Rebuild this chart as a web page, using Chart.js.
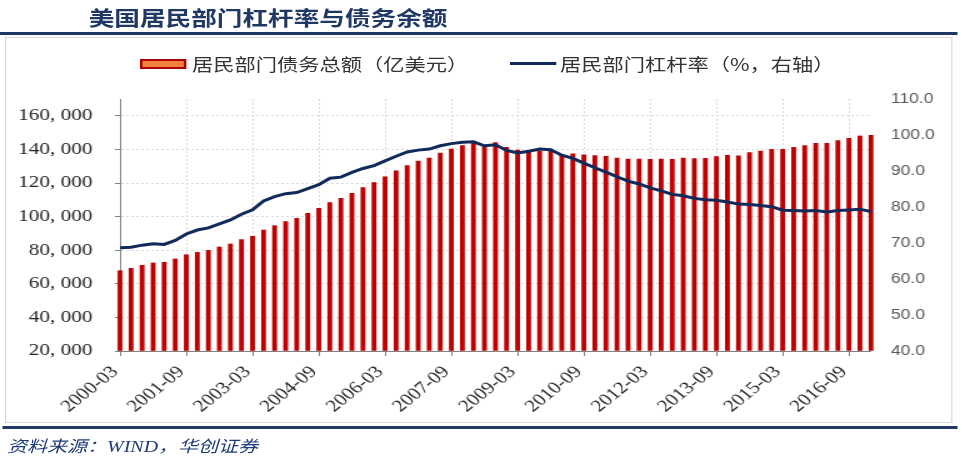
<!DOCTYPE html>
<html>
<head>
<meta charset="utf-8">
<script src="https://cdn.jsdelivr.net/npm/chart.js@4.4.0/dist/chart.umd.min.js"></script>
<style>
    html, body { margin: 0; padding: 0; background: #fff; width: 963px; height: 461px; overflow: hidden; }
    /* the reference picture is stretched sideways, so the whole page is drawn narrow and scaled */
    #wrap { position: absolute; left: 0; top: 0; width: 770.4px; height: 461px; transform: scaleX(1.25); transform-origin: 0 0; }
    #wrap div { position: absolute; white-space: nowrap; }
    #title { left: 71px; top: 7px; font: bold 20.5px/21px "Noto Sans CJK SC", sans-serif; color: #1F3864; }
    #topline { left: 0; top: 32px; width: 765.6px; height: 2.5px; background: #1F3864; }
    #frame { left: 4px; top: 37px; width: 758.4px; height: 386px; border: 1.5px solid #D9D9D9; box-sizing: border-box; }
    #bottomline { left: 1.6px; top: 426px; width: 764px; height: 2.5px; background: #1F3864; }
    #source { left: 5.6px; top: 438px; font: italic 16px/18px "Liberation Serif", "Noto Sans CJK SC", serif; color: #1F3C78; }
    .leg { font: 17px/17px "Noto Sans CJK SC", sans-serif; color: #333; top: 54.5px; }
    #sw1 { left: 112px; top: 58.5px; width: 33px; height: 6px; background: #F4813C; border: 2px solid #B00000; }
    #lt1 { left: 153.6px; }
    #sw2 { left: 408px; top: 62px; width: 37px; height: 3px; background: #0F2A5A; }
    #lt2 { left: 448px; }
    canvas { position: absolute; left: 0; top: 0; }
</style>
</head>
<body>
<div id="wrap">
    <div id="title">美国居民部门杠杆率与债务余额</div>
    <div id="topline"></div>
    <div id="frame"></div>
    <div id="sw1"></div><div class="leg" id="lt1">居民部门债务总额（亿美元）</div>
    <div id="sw2"></div><div class="leg" id="lt2">居民部门杠杆率（%，右轴）</div>
    <canvas id="myChart" width="770" height="461"></canvas>
    <div id="bottomline"></div>
    <div id="source">资料来源：WIND，华创证券</div>
</div>
<script>
        // quarters 2000-03 .. 2017-03
        const quarters = [];
        for (let y = 2000; y <= 2017; y++) {
            ['03', '06', '09', '12'].forEach(m => quarters.push(y + '-' + m));
        }
        quarters.length = 69;

        // household debt, 100 million USD (left axis)
        const debt = [
            67800, 69200, 71000, 72400, 72800, 74800, 77300, 78700, 79900, 81900,
            83700, 86300, 88300, 92000, 94600, 97000, 99000, 102000, 104900, 108400,
            110900, 113900, 117200, 120200, 123700, 127300, 130300, 133100, 134900, 137800,
            140200, 142200, 143600, 142000, 144000, 141200, 139600, 138400, 139000, 139000,
            136700, 137300, 136700, 136300, 135900, 134900, 134300, 134300, 134100, 134300,
            134100, 134900, 134500, 134700, 135700, 136500, 136100, 138100, 139000, 140000,
            140000, 141200, 142200, 143600, 143600, 145200, 146600, 148000, 148400
        ];

        // household leverage, % (right axis)
        const leverage = [
            68.7, 68.8, 69.4, 69.8, 69.6, 70.7, 72.5, 73.6, 74.2, 75.3,
            76.4, 78.0, 79.2, 81.7, 82.9, 83.7, 84.0, 85.1, 86.2, 88.0,
            88.3, 89.6, 90.7, 91.5, 92.8, 94.1, 95.3, 95.8, 96.1, 97.0,
            97.6, 98.0, 98.1, 97.0, 97.3, 95.7, 95.0, 95.5, 96.1, 95.9,
            94.4, 93.5, 92.2, 90.9, 89.7, 88.4, 87.2, 86.4, 85.3, 84.5,
            83.5, 83.1, 82.4, 82.0, 81.9, 81.4, 80.8, 80.7, 80.4, 80.1,
            79.1, 79.0, 78.9, 79.0, 78.6, 79.0, 79.2, 79.4, 78.7
        ];

        // left axis ticks (the top of the axis, 170000, has no label)
        const leftTicks = [20000, 40000, 60000, 80000, 100000, 120000, 140000, 160000];
        const leftMin = 20000, leftMax = 170000;
        const rightMin = 40, rightMax = 110, rightStep = 10;
        const labelEvery = 6;

        const ctx = document.getElementById('myChart').getContext('2d');
        const noColor = 'rgba(0,0,0,0)';

        const myChart = new Chart(ctx, {
            data: {
                labels: quarters,
                datasets: [{
                    type: 'line',
                    label: '居民部门杠杆率（%，右轴）',
                    data: leverage,
                    yAxisID: 'y1',
                    borderColor: '#0F2A5A',
                    borderWidth: 3,
                    pointRadius: 0,
                    tension: 0,
                    order: 1
                }, {
                    type: 'bar',
                    label: '居民部门债务总额（亿美元）',
                    data: debt,
                    yAxisID: 'y',
                    base: leftMin,
                    backgroundColor: '#C00000',
                    barThickness: 3.2,
                    clip: false,
                    order: 2
                }]
            },
            options: {
                responsive: false,
                animation: false,
                layout: { padding: { top: 99, left: 0, right: 0, bottom: 0 } },
                plugins: { legend: { display: false }, tooltip: { enabled: false } },
                scales: {
                    x: {
                        offset: false,
                        grid: {
                            offset: false,
                            color: c => c.index % labelEvery === 0 ? '#D9D9D9' : noColor,
                            tickColor: c => c.index % labelEvery === 0 ? '#808080' : noColor,
                            tickLength: 5
                        },
                        border: { color: '#808080', width: 1, dash: [2, 2] },
                        ticks: {
                            autoSkip: false,
                            minRotation: 45,
                            maxRotation: 45,
                            padding: 6,
                            labelOffset: -4,
                            color: '#262626',
                            font: { family: 'Liberation Serif', size: 17 },
                            callback: (v, i) => i % labelEvery === 0 ? quarters[i] : ''
                        },
                        afterFit: s => { s.height = 110; }
                    },
                    y: {
                        position: 'left',
                        min: leftMin,
                        max: leftMax,
                        afterBuildTicks: s => { s.ticks = leftTicks.map(v => ({ value: v })); },
                        grid: {
                            color: c => (c.tick && c.tick.value === leftMin) ? noColor : '#D9D9D9',
                            tickColor: '#808080',
                            tickLength: 4
                        },
                        border: { color: '#808080', width: 1, dash: [2, 2] },
                        ticks: {
                            padding: 18,
                            color: '#262626',
                            font: { family: 'Liberation Serif', size: 17 },
                            callback: v => v.toLocaleString('en-US').replace(',', ', ')
                        },
                        afterFit: s => { s.width = 96; }
                    },
                    y1: {
                        position: 'right',
                        min: rightMin,
                        max: rightMax,
                        grid: { drawOnChartArea: false, drawTicks: false },
                        border: { display: false },
                        ticks: {
                            stepSize: rightStep,
                            padding: 16,
                            color: '#595959',
                            font: { family: 'Liberation Sans', size: 14 },
                            callback: v => v.toFixed(1)
                        },
                        afterFit: s => { s.width = 73.2; }
                    }
                }
            }
        });
</script>
</body>
</html>
